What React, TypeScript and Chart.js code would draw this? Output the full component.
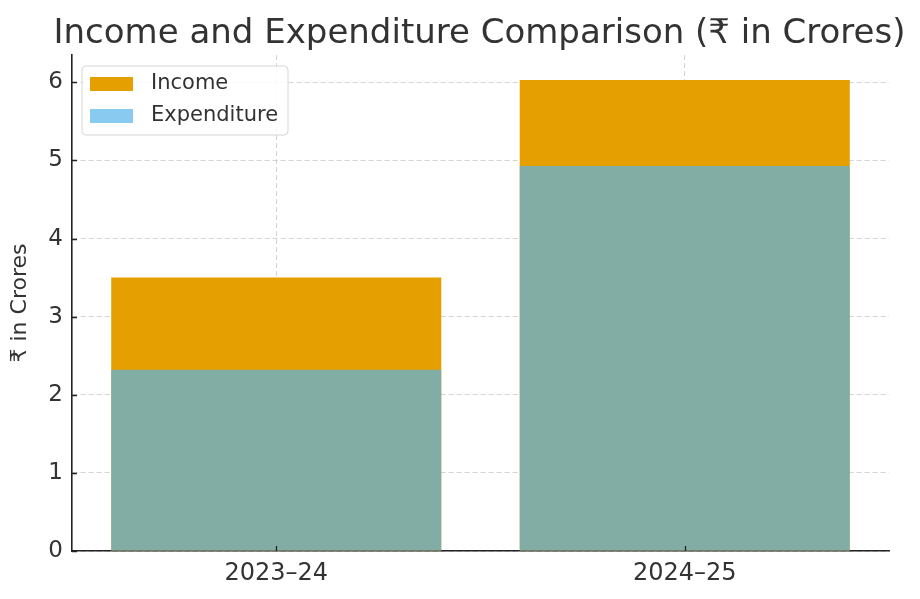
import React, { useEffect, useRef } from "react";
import { Chart, registerables } from "chart.js";

Chart.register(...registerables);

const categories = ["2023–24", "2024–25"];
const income = [3.5, 6.03];
const expenditure = [2.32, 4.93];
const yTicks = [0, 1, 2, 3, 4, 5, 6];
const yMax = 6.35;
const TITLE = "Income and Expenditure Comparison (₹ in Crores)";

const FONT = "'DejaVu Sans', 'Noto Sans', sans-serif";
const INCOME_COLOR = "#E69F00";
const EXP_COLOR = "rgba(86,180,233,0.7)";
const GRID_COLOR = "rgba(176,176,176,0.55)";
const AXIS_COLOR = "#222";
const TEXT_COLOR = "#333";

const decorations = {
  id: "decorations",
  afterDraw(chart: any) {
    const { ctx, chartArea } = chart;
    const xs = chart.scales.x;
    const ys = chart.scales.y;
    ctx.save();

    // title centred over the plot area
    ctx.font = `34px ${FONT}`;
    ctx.fillStyle = TEXT_COLOR;
    ctx.textAlign = "center";
    ctx.textBaseline = "alphabetic";
    ctx.fillText(TITLE, (chartArea.left + chartArea.right) / 2 - 1, 43);

    // inward tick marks
    ctx.strokeStyle = AXIS_COLOR;
    ctx.lineWidth = 1.3;
    ctx.beginPath();
    yTicks.forEach((v) => {
      const py = Math.round(ys.getPixelForValue(v)) + 0.5;
      ctx.moveTo(chartArea.left, py);
      ctx.lineTo(chartArea.left + 5, py);
    });
    categories.forEach((_, i) => {
      const px = Math.round(xs.getPixelForValue(i)) + 0.5;
      ctx.moveTo(px, chartArea.bottom);
      ctx.lineTo(px, chartArea.bottom - 5);
    });
    ctx.stroke();

    // legend box inside plot
    const x = chartArea.left + 10;
    const y = chartArea.top + 11;
    const w = 206;
    const h = 69;
    ctx.beginPath();
    ctx.roundRect(x, y, w, h, 4);
    ctx.fillStyle = "rgba(255,255,255,0.85)";
    ctx.fill();
    ctx.strokeStyle = "#d6d6d6";
    ctx.lineWidth = 1;
    ctx.stroke();
    ctx.font = `21px ${FONT}`;
    ctx.textBaseline = "middle";
    ctx.textAlign = "left";
    chart.data.datasets.forEach((ds: any, i: number) => {
      const rowY = y + 18 + i * 32;
      ctx.fillStyle = ds.backgroundColor;
      ctx.fillRect(x + 8, rowY - 7, 43, 14);
      ctx.fillStyle = TEXT_COLOR;
      ctx.fillText(ds.label, x + 69, rowY);
    });
    ctx.restore();
  },
};

export default function App() {
  const ref = useRef<HTMLCanvasElement | null>(null);

  useEffect(() => {
    document.body.style.margin = "0";
    if (!ref.current) return;
    const chart = new Chart(ref.current, {
      type: "bar",
      data: {
        labels: categories,
        datasets: [
          {
            label: "Income",
            data: income,
            backgroundColor: INCOME_COLOR,
            grouped: false,
            order: 2,
            barPercentage: 0.808,
            categoryPercentage: 1,
          } as any,
          {
            label: "Expenditure",
            data: expenditure,
            backgroundColor: EXP_COLOR,
            grouped: false,
            order: 1,
            barPercentage: 0.808,
            categoryPercentage: 1,
          } as any,
        ],
      },
      options: {
        animation: false,
        responsive: true,
        maintainAspectRatio: false,
        layout: { padding: { left: 0, right: 31, top: 55, bottom: 0 } },
        plugins: {
          legend: { display: false },
          tooltip: { enabled: false },
          title: { display: false },
        },
        scales: {
          x: {
            type: "category",
            offset: true,
            z: 1,
            grid: {
              offset: false,
              color: GRID_COLOR,
              lineWidth: 1,
              drawTicks: false,
            },
            border: { display: true, color: AXIS_COLOR, width: 1.6, dash: [5, 3] },
            ticks: {
              color: TEXT_COLOR,
              font: { family: FONT, size: 24 },
              padding: 8,
            },
            afterFit(s: any) {
              s.height = 48;
            },
          },
          y: {
            min: 0,
            max: yMax,
            z: 1,
            grid: {
              color: GRID_COLOR,
              lineWidth: 1,
              drawTicks: false,
            },
            border: { display: true, color: AXIS_COLOR, width: 1.6, dash: [5, 3] },
            ticks: {
              color: TEXT_COLOR,
              font: { family: FONT, size: 23 },
              padding: 9,
            },
            afterBuildTicks(s: any) {
              s.ticks = yTicks.map((v) => ({ value: v }));
            },
            title: {
              display: true,
              text: "₹ in Crores",
              color: TEXT_COLOR,
              font: { family: FONT, size: 22 },
              padding: { top: 7, bottom: 4 },
            },
            afterFit(s: any) {
              s.width = 72;
            },
          },
        },
      } as any,
      plugins: [decorations],
    });
    return () => chart.destroy();
  }, []);

  return (
    <div style={{ width: 920, height: 599, position: "relative", background: "#fff" }}>
      <canvas ref={ref} />
    </div>
  );
}
